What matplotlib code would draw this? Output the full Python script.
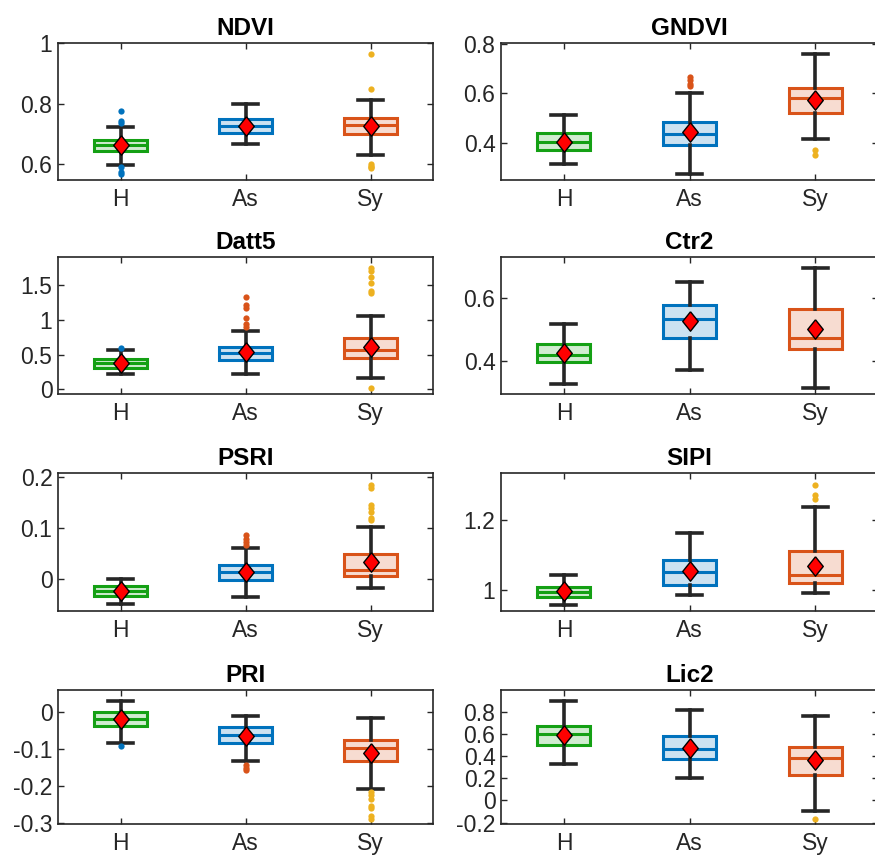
import matplotlib
matplotlib.use('Agg')
import matplotlib.pyplot as plt

plt.rcParams['font.family'] = ['Liberation Sans', 'DejaVu Sans']

# groups and panels
groups = ['H', 'As', 'Sy']
panels = ['NDVI', 'GNDVI', 'Datt5', 'Ctr2', 'PSRI', 'SIPI', 'PRI', 'Lic2']

# box statistics, one row per panel, one value per group
q1 = [[0.645, 0.702, 0.699], [0.370, 0.391, 0.521], [0.303, 0.423, 0.447],
      [0.397, 0.471, 0.436], [-0.0333, -0.0013, 0.0059], [0.981, 1.014, 1.019],
      [-0.0387, -0.0838, -0.132], [0.495, 0.369, 0.228]]
med = [[0.663, 0.726, 0.729], [0.404, 0.435, 0.580], [0.375, 0.529, 0.567],
       [0.418, 0.534, 0.473], [-0.0235, 0.0137, 0.017], [0.995, 1.051, 1.043],
       [-0.0198, -0.063, -0.099], [0.595, 0.462, 0.384]]
q3 = [[0.680, 0.748, 0.754], [0.438, 0.485, 0.623], [0.433, 0.615, 0.745],
      [0.452, 0.577, 0.566], [-0.0144, 0.0268, 0.0497], [1.0096, 1.087, 1.112],
      [0.0, -0.0423, -0.0766], [0.670, 0.580, 0.483]]
whislo = [[0.597, 0.666, 0.631], [0.315, 0.275, 0.415], [0.216, 0.216, 0.159],
          [0.327, 0.369, 0.312], [-0.050, -0.0346, -0.017], [0.956, 0.985, 0.990],
          [-0.0847, -0.134, -0.209], [0.330, 0.204, -0.093]]
whishi = [[0.724, 0.798, 0.812], [0.511, 0.600, 0.757], [0.5625, 0.840, 1.0625],
          [0.517, 0.650, 0.694], [0.0, 0.0614, 0.101], [1.042, 1.163, 1.237],
          [0.0288, -0.011, -0.018], [0.895, 0.817, 0.763]]
means = [[0.663, 0.726, 0.727], [0.404, 0.443, 0.574], [0.375, 0.543, 0.615],
         [0.425, 0.527, 0.500], [-0.0235, 0.0144, 0.0333], [0.997, 1.053, 1.069],
         [-0.0198, -0.065, -0.111], [0.592, 0.468, 0.363]]
fliers = [
    [[0.774, 0.744, 0.737, 0.592, 0.575, 0.568], [], [0.963, 0.847, 0.600, 0.595, 0.590, 0.587]],
    [[], [0.666, 0.652, 0.636, 0.630], [0.370, 0.350]],
    [[0.590], [1.327, 1.216, 1.178, 1.024, 0.9375, 0.904], [1.745, 1.707, 1.625, 1.529, 1.418, 1.394, 0.02]],
    [[], [], []],
    [[], [0.0856, 0.079, 0.0725, 0.066], [0.185, 0.179, 0.146, 0.139, 0.131, 0.12, 0.115]],
    [[], [], [1.300, 1.270, 1.260]],
    [[-0.0928], [-0.144, -0.153, -0.158], [-0.216, -0.225, -0.237, -0.254, -0.261, -0.281, -0.290]],
    [[], [], [-0.168]],
]
ylims = [(0.548, 1.0), (0.25, 0.803), (-0.07, 1.91), (0.294, 0.73),
         (-0.063, 0.208), (0.94, 1.334), (-0.304, 0.059), (-0.213, 0.994)]
yticks = [[0.6, 0.8, 1], [0.4, 0.6, 0.8], [0, 0.5, 1, 1.5], [0.4, 0.6],
          [0, 0.1, 0.2], [1, 1.2], [-0.3, -0.2, -0.1, 0], [-0.2, 0, 0.2, 0.4, 0.6, 0.8]]

box_colors = ['#14A014', '#0072BD', '#D95319']
flier_colors = ['#0072BD', '#D95319', '#EDB120']
dark = '#262626'

# axes positions in figure fraction (left col / right col, 4 rows)
col_x = [0.0663, 0.5726]
col_w = [0.4286, 0.431]
row_b = [0.7905, 0.5413, 0.2887, 0.0407]
row_h = [0.1595, 0.1595, 0.1607, 0.156]

diamond = [(0, 1), (0.8, 0), (0, -1), (-0.8, 0), (0, 1)]

fig = plt.figure(figsize=(8.75, 8.59), dpi=100)
for p in range(len(panels)):
    r, c = p // 2, p % 2
    ax = fig.add_axes([col_x[c], row_b[r], col_w[c], row_h[r]])
    for g in range(3):
        stats = [dict(q1=q1[p][g], med=med[p][g], q3=q3[p][g],
                      whislo=whislo[p][g], whishi=whishi[p][g],
                      mean=means[p][g], fliers=fliers[p][g])]
        col = box_colors[g]
        ax.bxp(stats, positions=[g + 1], widths=0.42, patch_artist=True,
               showmeans=True, manage_ticks=False,
               boxprops=dict(facecolor=matplotlib.colors.to_rgba(col, 0.2),
                             edgecolor=col, linewidth=2.2),
               medianprops=dict(color=col, linewidth=2.2),
               whiskerprops=dict(color=dark, linewidth=2.6),
               capprops=dict(color=dark, linewidth=2.6),
               capwidths=0.2,
               flierprops=dict(marker='o', markersize=4.5, markerfacecolor=flier_colors[g],
                               markeredgecolor='none'),
               meanprops=dict(marker=diamond, markersize=14, markerfacecolor='red',
                              markeredgecolor='black', markeredgewidth=1.0))
    ax.set_xlim(0.5, 3.5)
    ax.set_ylim(*ylims[p])
    ax.set_xticks([1, 2, 3])
    ax.set_xticklabels(groups)
    ax.set_yticks(yticks[p])
    ax.set_yticklabels([f'{t:g}' for t in yticks[p]])
    ax.tick_params(direction='in', length=4, width=1, colors=dark, labelsize=16.5,
                   top=True, right=True, pad=4)
    ax.tick_params(axis='x', pad=6)
    for s in ax.spines.values():
        s.set_color(dark)
        s.set_linewidth(1.2)
    ax.set_title(panels[p], fontsize=17.5, fontweight='bold', color='black', pad=6)

fig.savefig('out.png', dpi=100)
